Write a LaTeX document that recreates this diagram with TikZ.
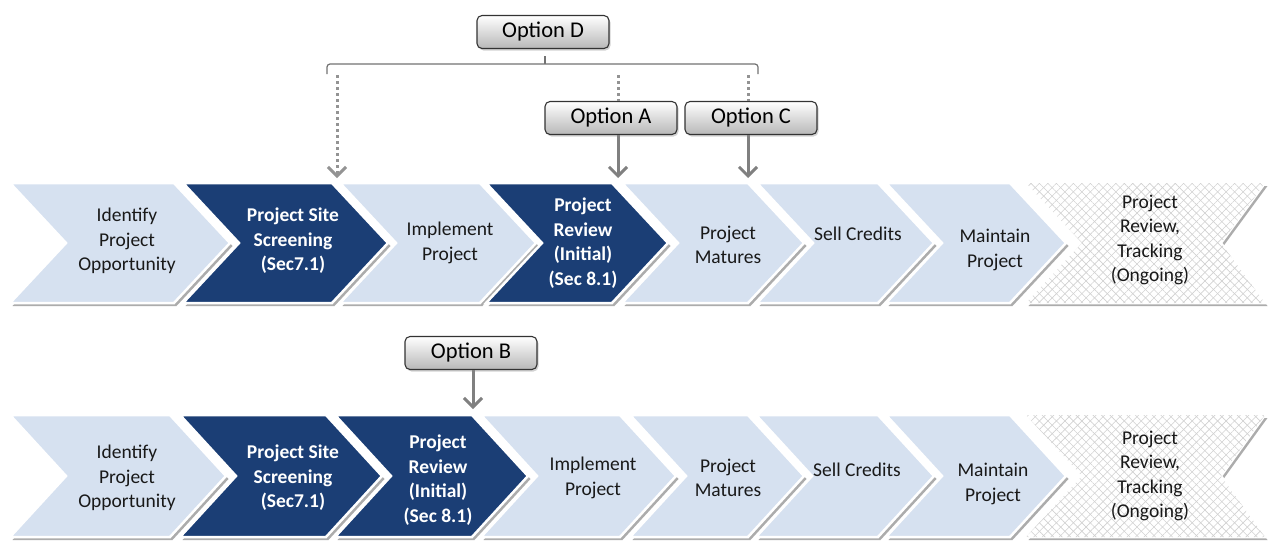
\documentclass[tikz,border=0pt]{standalone}
\usepackage{fontspec}
\setmainfont{Carlito}
\usetikzlibrary{arrows.meta,shadows,patterns.meta}

\definecolor{chevfill}{RGB}{214,225,240}
\definecolor{chevnavy}{RGB}{27,62,117}
\definecolor{arrowgray}{RGB}{128,128,128}

\tikzset{
  chevlight/.style={fill=chevfill, draw=white, line width=2.5pt, drop shadow={shadow xshift=2.5pt, shadow yshift=-3pt, fill=black!50, opacity=0.65}},
  chevdark/.style={chevlight, fill=chevnavy},
  chevhatch/.style={chevlight, fill=white,
    postaction={pattern={Lines[angle=45,distance=6pt,line width=0.6pt]}, pattern color=black!18},
    postaction={pattern={Lines[angle=-45,distance=6pt,line width=0.6pt]}, pattern color=black!18}},
  lighttext/.style={align=center, inner sep=0.75pt, text=black!90, font=\fontsize{19.5}{24.5}\selectfont},
  darktext/.style={lighttext, text=white, font=\bfseries\fontsize{19.5}{24.5}\selectfont},
  optbox/.style={draw=black!80, line width=1.1pt, rounded corners=5pt, minimum width=132pt, minimum height=33pt,
    top color=white, bottom color=black!28, drop shadow={shadow xshift=1.5pt, shadow yshift=-2pt, opacity=0.35},
    font=\fontsize{22.5}{26}\selectfont},
  bracketline/.style={draw=black!55, line width=1.2pt, rounded corners=3pt},
  optarrow/.style={draw=arrowgray, line width=3pt, -{Straight Barb[length=9pt,width=18pt]}},
  optdots/.style={draw=arrowgray!85, line width=3pt, dash pattern=on 3pt off 3pt},
  optdotted/.style={optdots, -{Straight Barb[length=9pt,width=18pt]}},
}

\begin{document}
\begin{tikzpicture}[x=1pt,y=1pt,yscale=-1,xscale=1]
\fill[white] (0,0) rectangle (1270,544);
\useasboundingbox (0,0) rectangle (1270,544);

%Chevrons, top row
\draw [chevlight] (10,183) -- (174,183) -- (230,243) -- (174,303) -- (10,303) -- (66,243) -- cycle ;
\draw [chevdark] (183,183) -- (332,183) -- (388,243) -- (332,303) -- (183,303) -- (239,243) -- cycle ;
\draw [chevlight] (340,183) -- (480,183) -- (536,243) -- (480,303) -- (340,303) -- (396,243) -- cycle ;
\draw [chevdark] (486,183) -- (612,183) -- (668,243) -- (612,303) -- (486,303) -- (542,243) -- cycle ;
\draw [chevlight] (622,183) -- (748,183) -- (804,243) -- (748,303) -- (622,303) -- (678,243) -- cycle ;
\draw [chevlight] (757,183) -- (878,183) -- (934,243) -- (878,303) -- (757,303) -- (813,243) -- cycle ;
\draw [chevlight] (886,183) -- (1010,183) -- (1066,243) -- (1010,303) -- (886,303) -- (942,243) -- cycle ;
\draw [chevhatch] (1026,183) -- (1265,183) -- (1221,243) -- (1265,303) -- (1026,303) -- (1082,243) -- cycle ;

%Chevrons, bottom row
\draw [chevlight] (10,415) -- (170,415) -- (226,476) -- (170,537) -- (10,537) -- (66,476) -- cycle ;
\draw [chevdark] (180,415) -- (326,415) -- (382,476) -- (326,537) -- (180,537) -- (236,476) -- cycle ;
\draw [chevdark] (335,415) -- (472,415) -- (528,476) -- (472,537) -- (335,537) -- (391,476) -- cycle ;
\draw [chevlight] (481,415) -- (620,415) -- (676,476) -- (620,537) -- (481,537) -- (537,476) -- cycle ;
\draw [chevlight] (630,415) -- (748,415) -- (804,476) -- (748,537) -- (630,537) -- (686,476) -- cycle ;
\draw [chevlight] (756,415) -- (878,415) -- (934,476) -- (878,537) -- (756,537) -- (812,476) -- cycle ;
\draw [chevlight] (886,415) -- (1010,415) -- (1066,476) -- (1010,537) -- (886,537) -- (942,476) -- cycle ;
\draw [chevhatch] (1026,415) -- (1265,415) -- (1221,476) -- (1265,537) -- (1026,537) -- (1082,476) -- cycle ;

% Text Nodes, top row
\node (tIdentify) at (127,241) [lighttext] {Identify\\Project\\Opportunity};
\node (tScreening) at (293,241) [darktext] {Project Site\\Screening\\(Sec7.1)};
\node (tImplement) at (450,243) [lighttext] {Implement\\Project};
\node (tReview) at (583,243) [darktext] {Project\\Review\\(Initial)\\(Sec 8.1)};
\node (tMatures) at (728,245) [lighttext] {Project\\Matures};
\node (tSell) at (858,234) [lighttext] {Sell Credits};
\node (tMaintain) at (995,250) [lighttext] {Maintain\\Project};
\node (tTracking) at (1150,240) [lighttext] {Project\\Review,\\Tracking\\(Ongoing)};

% Text Nodes, bottom row
\node (bIdentify) at (127,478) [lighttext] {Identify\\Project\\Opportunity};
\node (bScreening) at (293,478) [darktext] {Project Site\\Screening\\(Sec7.1)};
\node (bReview) at (438,480) [darktext] {Project\\Review\\(Initial)\\(Sec 8.1)};
\node (bImplement) at (593,478) [lighttext] {Implement\\Project};
\node (bMatures) at (728,478) [lighttext] {Project\\Matures};
\node (bSell) at (857,470) [lighttext] {Sell Credits};
\node (bMaintain) at (993,484) [lighttext] {Maintain\\Project};
\node (bTracking) at (1150,476) [lighttext] {Project\\Review,\\Tracking\\(Ongoing)};

% Option boxes
\node (optD) at (543,32) [optbox] {Option D};
\node (optA) at (611,118) [optbox] {Option A};
\node (optC) at (751,118) [optbox] {Option C};
\node (optB) at (471,353) [optbox] {Option B};

%Bracket under Option D
\draw [bracketline] (327,74) -- (327,64) -- (758,64) -- (758,74) ;
\draw [bracketline] (545,56) -- (545,64) ;

\coordinate (brL) at (337,75);
\coordinate (brA) at (618,75);
\coordinate (brC) at (748,75);
\coordinate (jTop23) at (337,178);
\coordinate (jTop45) at (618,178);
\coordinate (jTop56) at (748,178);
\coordinate (jBot34) at (473,409);

% Arrows
\draw [optdotted] (brL) -- (jTop23) ;
\draw [optdots] (brA) -- (optA.north -| brA) ;
\draw [optdots] (brC) -- (optC.north -| brC) ;
\draw [optarrow] (optA.south -| jTop45) -- (jTop45) ;
\draw [optarrow] (optC.south -| jTop56) -- (jTop56) ;
\draw [optarrow] (optB.south -| jBot34) -- (jBot34) ;

\end{tikzpicture}
\end{document}
